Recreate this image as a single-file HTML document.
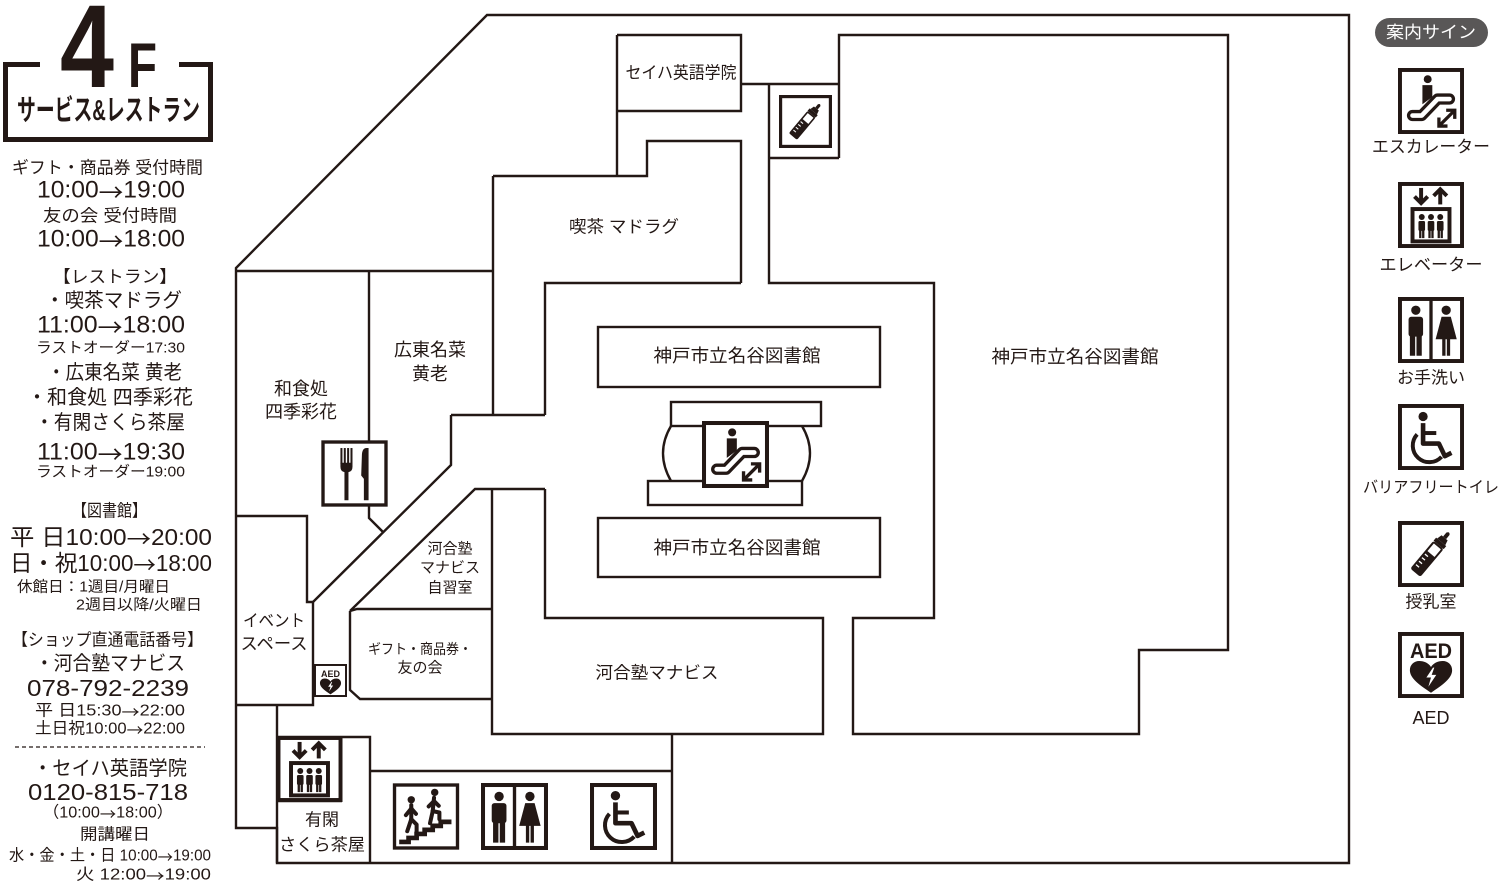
<!DOCTYPE html>
<html><head><meta charset="utf-8">
<style>
html,body{margin:0;padding:0;background:#fff;}
svg{display:block;}
text{font-family:"Liberation Sans","Noto Sans CJK JP",sans-serif;fill:#231815;}
tspan.a{font-family:"Noto Sans CJK JP",sans-serif;}
</style></head><body>
<svg width="1500" height="882" viewBox="0 0 1500 882" xmlns="http://www.w3.org/2000/svg">
<defs>
<symbol id="esc" viewBox="0 0 100 100">
<rect x="3" y="3" width="94" height="94" fill="#fff" stroke="#231815" stroke-width="6"/>
<circle cx="45" cy="17" r="6" fill="#231815"/>
<path d="M37 26 H52 V44 L37 55 Z" fill="#231815"/>
<polyline points="22,72 36,72 60,47 78,47" fill="none" stroke="#231815" stroke-width="17" stroke-linecap="round" stroke-linejoin="round"/>
<polyline points="22,72 36,72 60,47 78,47" fill="none" stroke="#fff" stroke-width="7" stroke-linecap="round" stroke-linejoin="round"/>
<g stroke="#231815" stroke-width="5" fill="none"><line x1="62" y1="88" x2="86" y2="64"/><polyline points="73,64 86,64 86,77"/><polyline points="62,75 62,88 75,88"/></g>
</symbol>
<symbol id="elv" viewBox="0 0 100 100">
<rect x="3" y="3" width="94" height="94" fill="#fff" stroke="#231815" stroke-width="6"/>
<g stroke="#231815" stroke-width="6" fill="none">
<line x1="35" y1="9" x2="35" y2="32"/><polyline points="25,22 35,32 45,22"/>
<line x1="64" y1="12" x2="64" y2="34"/><polyline points="54,21 64,11 74,21"/>
<rect x="22" y="41" width="56" height="49"/>
</g>
<g fill="#231815">
<circle cx="36" cy="53" r="4.5"/><rect x="31" y="59" width="10" height="15" rx="2"/><rect x="32" y="72" width="3.5" height="13"/><rect x="36.5" y="72" width="3.5" height="13"/>
<circle cx="50" cy="53" r="4.5"/><rect x="45" y="59" width="10" height="15" rx="2"/><rect x="46" y="72" width="3.5" height="13"/><rect x="50.5" y="72" width="3.5" height="13"/>
<circle cx="64" cy="53" r="4.5"/><rect x="59" y="59" width="10" height="15" rx="2"/><rect x="60" y="72" width="3.5" height="13"/><rect x="64.5" y="72" width="3.5" height="13"/>
</g>
</symbol>
<symbol id="wc" viewBox="0 0 100 100">
<rect x="3" y="3" width="94" height="94" fill="#fff" stroke="#231815" stroke-width="6"/>
<line x1="50" y1="3" x2="50" y2="97" stroke="#231815" stroke-width="5"/>
<g fill="#231815">
<circle cx="27" cy="20" r="7"/>
<rect x="16" y="30" width="22" height="30" rx="4"/>
<rect x="18" y="56" width="8" height="33"/><rect x="28" y="56" width="8" height="33"/>
<circle cx="73" cy="20" r="7"/>
<path d="M66 30 H80 L89 64 H57 Z"/>
<rect x="67" y="62" width="5" height="27"/><rect x="74" y="62" width="5" height="27"/>
</g>
</symbol>
<symbol id="wch" viewBox="0 0 100 100">
<rect x="3" y="3" width="94" height="94" fill="#fff" stroke="#231815" stroke-width="6"/>
<circle cx="38" cy="19" r="7" fill="#231815"/>
<g stroke="#231815" fill="none" stroke-linejoin="round">
<path d="M38 29 V60 H62 L71 79 L81 74" stroke-width="7"/>
<line x1="38" y1="44" x2="58" y2="44" stroke-width="6"/>
<path d="M29 46 A24 24 0 1 0 66 80" stroke-width="6"/>
</g>
</symbol>
<symbol id="btl" viewBox="0 0 100 100">
<rect x="3" y="3" width="94" height="94" fill="#fff" stroke="#231815" stroke-width="6"/>
<g transform="rotate(40 50 50)">
<path d="M47 10 Q50 5 53 10 V18 H47 Z" fill="#231815"/>
<path d="M44 18 H56 L58 26 H42 Z" fill="#231815"/>
<rect x="40" y="26" width="20" height="6" fill="#231815"/>
<rect x="41.5" y="33.5" width="17" height="52" rx="2" fill="#fff" stroke="#231815" stroke-width="3"/>
<rect x="41.5" y="50" width="17" height="35.5" rx="2" fill="#231815"/>
<g stroke="#fff" stroke-width="2"><line x1="43" y1="56" x2="49" y2="56"/><line x1="43" y1="63" x2="49" y2="63"/><line x1="43" y1="70" x2="49" y2="70"/><line x1="43" y1="77" x2="49" y2="77"/></g>
</g>
</symbol>
<symbol id="frk" viewBox="0 0 100 100">
<rect x="3" y="3" width="94" height="94" fill="#fff" stroke="#231815" stroke-width="5"/>
<g fill="#231815">
<rect x="29" y="12" width="3" height="24"/><rect x="34" y="12" width="3" height="24"/><rect x="39" y="12" width="3" height="24"/><rect x="44" y="12" width="3" height="24"/>
<path d="M29 34 H47 V40 Q47 47 41 48 V90 H35 V48 Q29 47 29 40 Z"/>
<path d="M61 24 Q61 12 68 12 H71 V90 H64 V58 L60 53 Z"/>
</g>
</symbol>
<symbol id="str" viewBox="0 0 100 100">
<rect x="3" y="3" width="94" height="94" fill="#fff" stroke="#231815" stroke-width="5"/>
<path d="M10 88 H24 V82 H36 V76 H48 V70 H60 V64 H72 V58 H88" fill="none" stroke="#231815" stroke-width="7"/>
<g fill="#231815"><circle cx="28" cy="25" r="5.5"/><circle cx="63" cy="14" r="5.5"/></g>
<g stroke="#231815" stroke-width="6" fill="none" stroke-linecap="round" stroke-linejoin="round">
<path d="M28 33 V54"/><path d="M28 54 L22 72"/><path d="M28 54 L36 62 V74"/><path d="M28 38 L20 48"/><path d="M28 38 L35 46"/>
<path d="M62 22 L60 42"/><path d="M60 42 L56 60"/><path d="M60 42 L70 44 V54"/><path d="M62 27 L54 35"/><path d="M62 27 L69 34"/>
</g>
</symbol>
<symbol id="aed" viewBox="0 0 100 100">
<rect x="3" y="3" width="94" height="94" fill="#fff" stroke="#231815" stroke-width="6"/>
<path d="M50 92 C32 80 18 70 18 58 C18 49 25 44 32 44 C40 44 46 47 50 53 C54 47 60 44 68 44 C75 44 82 49 82 58 C82 70 68 80 50 92 Z" fill="#231815"/>
<polygon points="53,54 43,69 50,69 46,83 58,65 51,65 55,54" fill="#fff"/>
</symbol>
</defs>

<!-- LEFT HEADER -->
<text x="60" y="87" font-size="118" font-weight="bold" textLength="54" lengthAdjust="spacingAndGlyphs">4</text>
<text x="128" y="87" font-size="63" font-weight="bold" textLength="29" lengthAdjust="spacingAndGlyphs">F</text>
<path d="M40 64.5 H5.5 V139.5 H210.5 V64.5 H179" fill="none" stroke="#231815" stroke-width="5"/>
<text x="17" y="111" font-size="29" font-weight="bold" dominant-baseline="central" textLength="183" lengthAdjust="spacingAndGlyphs">サービス&amp;レストラン</text>

<g dominant-baseline="central">
<text x="12" y="168" font-size="17" textLength="191" lengthAdjust="spacingAndGlyphs">ギフト・商品券 受付時間</text>
<text x="37" y="190" font-size="24" textLength="148" lengthAdjust="spacingAndGlyphs">10:00<tspan class="a">→</tspan>19:00</text>
<text x="43" y="216" font-size="17" textLength="134" lengthAdjust="spacingAndGlyphs">友の会 受付時間</text>
<text x="37" y="239" font-size="24" textLength="148" lengthAdjust="spacingAndGlyphs">10:00<tspan class="a">→</tspan>18:00</text>

<text x="53" y="277" font-size="17" textLength="124" lengthAdjust="spacingAndGlyphs">【レストラン】</text>
<text x="45" y="301" font-size="20" textLength="137" lengthAdjust="spacingAndGlyphs">・喫茶マドラグ</text>
<text x="37" y="325" font-size="24" textLength="148" lengthAdjust="spacingAndGlyphs">11:00<tspan class="a">→</tspan>18:00</text>
<text x="36" y="348" font-size="15" textLength="149" lengthAdjust="spacingAndGlyphs">ラストオーダー17:30</text>
<text x="47" y="373" font-size="20" textLength="135" lengthAdjust="spacingAndGlyphs">・広東名菜 黄老</text>
<text x="27" y="398" font-size="20" textLength="166" lengthAdjust="spacingAndGlyphs">・和食処 四季彩花</text>
<text x="35" y="423" font-size="20" textLength="150" lengthAdjust="spacingAndGlyphs">・有閑さくら茶屋</text>
<text x="37" y="452" font-size="24" textLength="148" lengthAdjust="spacingAndGlyphs">11:00<tspan class="a">→</tspan>19:30</text>
<text x="36" y="472" font-size="15" textLength="149" lengthAdjust="spacingAndGlyphs">ラストオーダー19:00</text>

<text x="72" y="511" font-size="17" textLength="75" lengthAdjust="spacingAndGlyphs">【図書館】</text>
<text x="10" y="537" font-size="23" textLength="202" lengthAdjust="spacingAndGlyphs">平 日10:00<tspan class="a">→</tspan>20:00</text>
<text x="10" y="563" font-size="23" textLength="202" lengthAdjust="spacingAndGlyphs">日・祝10:00<tspan class="a">→</tspan>18:00</text>
<text x="17" y="587" font-size="15" textLength="153" lengthAdjust="spacingAndGlyphs">休館日：1週目/月曜日</text>
<text x="76" y="605" font-size="15" textLength="126" lengthAdjust="spacingAndGlyphs">2週目以降/火曜日</text>

<text x="12" y="640" font-size="17" textLength="191" lengthAdjust="spacingAndGlyphs">【ショップ直通電話番号】</text>
<text x="35" y="664" font-size="20" textLength="150" lengthAdjust="spacingAndGlyphs">・河合塾マナビス</text>
<text x="27" y="688" font-size="23" textLength="162" lengthAdjust="spacingAndGlyphs">078-792-2239</text>
<text x="35" y="711" font-size="16" textLength="150" lengthAdjust="spacingAndGlyphs">平 日15:30<tspan class="a">→</tspan>22:00</text>
<text x="35" y="729" font-size="16" textLength="150" lengthAdjust="spacingAndGlyphs">土日祝10:00<tspan class="a">→</tspan>22:00</text>
<line x1="15" y1="747" x2="205" y2="747" stroke="#231815" stroke-width="1.2" stroke-dasharray="4 3"/>
<text x="33" y="769" font-size="20" textLength="154" lengthAdjust="spacingAndGlyphs">・セイハ英語学院</text>
<text x="28" y="792" font-size="23" textLength="160" lengthAdjust="spacingAndGlyphs">0120-815-718</text>
<text x="43" y="813" font-size="16" textLength="130" lengthAdjust="spacingAndGlyphs">（10:00<tspan class="a">→</tspan>18:00）</text>
<text x="80" y="835" font-size="16" textLength="70" lengthAdjust="spacingAndGlyphs">開講曜日</text>
<text x="9" y="856" font-size="16" textLength="202" lengthAdjust="spacingAndGlyphs">水・金・土・日 10:00<tspan class="a">→</tspan>19:00</text>
<text x="76" y="875" font-size="16" textLength="135" lengthAdjust="spacingAndGlyphs">火 12:00<tspan class="a">→</tspan>19:00</text>
</g>

<!-- MAP WALLS -->
<g fill="none" stroke="#231815" stroke-width="2.4" stroke-linejoin="miter">
<path d="M487 15 H1349 V863 H277 V828 H236 V268 Z"/>
<path d="M236 271 H493"/>
<path d="M369 271 V441"/>
<path d="M369 506 V518 L383 532"/>
<path d="M493 176 V415"/>
<path d="M451 415 H545"/>
<path d="M451 415 V465 L313 602"/>
<path d="M236 516 H307 V602 H313 V705 H236"/>
<path d="M493 176 H647 V141 H741 V283"/>
<path d="M617 35 V176"/>
<path d="M617 35 H741 V111 H617"/>
<path d="M741 84 H839"/>
<path d="M839 158 V35 H1228 V650 H1139 V734 H853 V618 H934 V283 H769 V84"/>
<path d="M769 158 H839"/>
<path d="M741 283 H545 V415"/>
<path d="M545 489 V618 H823 V734 H492 V489"/>
<path d="M545 489 H475 L350 611"/>
<path d="M350 611 V690 L360 699 H492"/>
<path d="M350 611 L357 609 H492"/>
<path d="M277 705 V863"/>
<path d="M277 737 H370 V863"/>
<path d="M277 801 H342"/>
<path d="M370 771 H672"/>
<path d="M672 734 V863"/>
<path d="M671 426 Q655 453 671 481"/>
<path d="M802 426 Q818 453 802 481"/>
</g>
<g fill="#fff" stroke="#231815" stroke-width="2.4">
<rect x="598" y="327" width="282" height="60"/>
<rect x="598" y="518" width="282" height="59"/>
<rect x="671" y="402" width="150" height="24"/>
<rect x="648" y="481" width="154" height="24"/>
</g>

<!-- MAP ICONS -->
<use href="#btl" x="779" y="95" width="53" height="53"/>
<use href="#frk" x="321" y="440" width="67" height="67"/>
<use href="#esc" x="702" y="421" width="67" height="67"/>
<use href="#aed" x="314" y="664" width="33" height="33"/>
<text x="330.5" y="677" font-size="9" font-weight="bold" text-anchor="middle" textLength="19" lengthAdjust="spacingAndGlyphs">AED</text>
<use href="#elv" x="276" y="736" width="67" height="66"/>
<use href="#str" x="392" y="783" width="68" height="67"/>
<use href="#wc" x="481" y="783" width="67" height="67"/>
<use href="#wch" x="590" y="783" width="67" height="67"/>

<!-- MAP LABELS -->
<g dominant-baseline="central" text-anchor="middle">
<text x="681" y="73" font-size="17" textLength="111" lengthAdjust="spacingAndGlyphs">セイハ英語学院</text>
<text x="624" y="227" font-size="17" textLength="110" lengthAdjust="spacingAndGlyphs">喫茶 マドラグ</text>
<text x="430" y="350" font-size="18">広東名菜</text>
<text x="430" y="374" font-size="18">黄老</text>
<text x="301" y="389" font-size="18">和食処</text>
<text x="301" y="412" font-size="18">四季彩花</text>
<text x="737" y="356" font-size="18" textLength="167" lengthAdjust="spacingAndGlyphs">神戸市立名谷図書館</text>
<text x="737" y="548" font-size="18" textLength="167" lengthAdjust="spacingAndGlyphs">神戸市立名谷図書館</text>
<text x="1075" y="357" font-size="18" textLength="167" lengthAdjust="spacingAndGlyphs">神戸市立名谷図書館</text>
<text x="450" y="549" font-size="15">河合塾</text>
<text x="450" y="568" font-size="15">マナビス</text>
<text x="450" y="588" font-size="15">自習室</text>
<text x="274" y="621" font-size="17" textLength="62" lengthAdjust="spacingAndGlyphs">イベント</text>
<text x="274" y="644" font-size="17" textLength="67" lengthAdjust="spacingAndGlyphs">スペース</text>
<text x="420" y="649" font-size="14" textLength="104" lengthAdjust="spacingAndGlyphs">ギフト・商品券・</text>
<text x="420" y="668" font-size="15">友の会</text>
<text x="657" y="673" font-size="17" textLength="123" lengthAdjust="spacingAndGlyphs">河合塾マナビス</text>
<text x="322" y="820" font-size="17">有閑</text>
<text x="322" y="845" font-size="17" textLength="86" lengthAdjust="spacingAndGlyphs">さくら茶屋</text>
</g>

<!-- LEGEND -->
<rect x="1375" y="18" width="113" height="29" rx="14.5" fill="#595757"/>
<text x="1431" y="32.5" font-size="17" text-anchor="middle" dominant-baseline="central" style="fill:#fff" textLength="90" lengthAdjust="spacingAndGlyphs">案内サイン</text>

<use href="#esc" x="1398" y="68" width="66" height="66"/>
<use href="#elv" x="1398" y="182" width="66" height="66"/>
<use href="#wc" x="1398" y="297" width="66" height="66"/>
<use href="#wch" x="1398" y="404" width="66" height="66"/>
<use href="#btl" x="1398" y="521" width="66" height="66"/>
<use href="#aed" x="1398" y="632" width="66" height="66"/>
<text x="1431" y="658" font-size="21" font-weight="bold" text-anchor="middle" textLength="42" lengthAdjust="spacingAndGlyphs">AED</text>

<g dominant-baseline="central" text-anchor="middle">
<text x="1431" y="147" font-size="17" textLength="118" lengthAdjust="spacingAndGlyphs">エスカレーター</text>
<text x="1431" y="265" font-size="17" textLength="103" lengthAdjust="spacingAndGlyphs">エレベーター</text>
<text x="1431" y="378" font-size="17">お手洗い</text>
<text x="1431" y="488" font-size="16" textLength="136" lengthAdjust="spacingAndGlyphs">バリアフリートイレ</text>
<text x="1431" y="602" font-size="17">授乳室</text>
<text x="1431" y="718" font-size="18">AED</text>
</g>
</svg>
</body></html>
